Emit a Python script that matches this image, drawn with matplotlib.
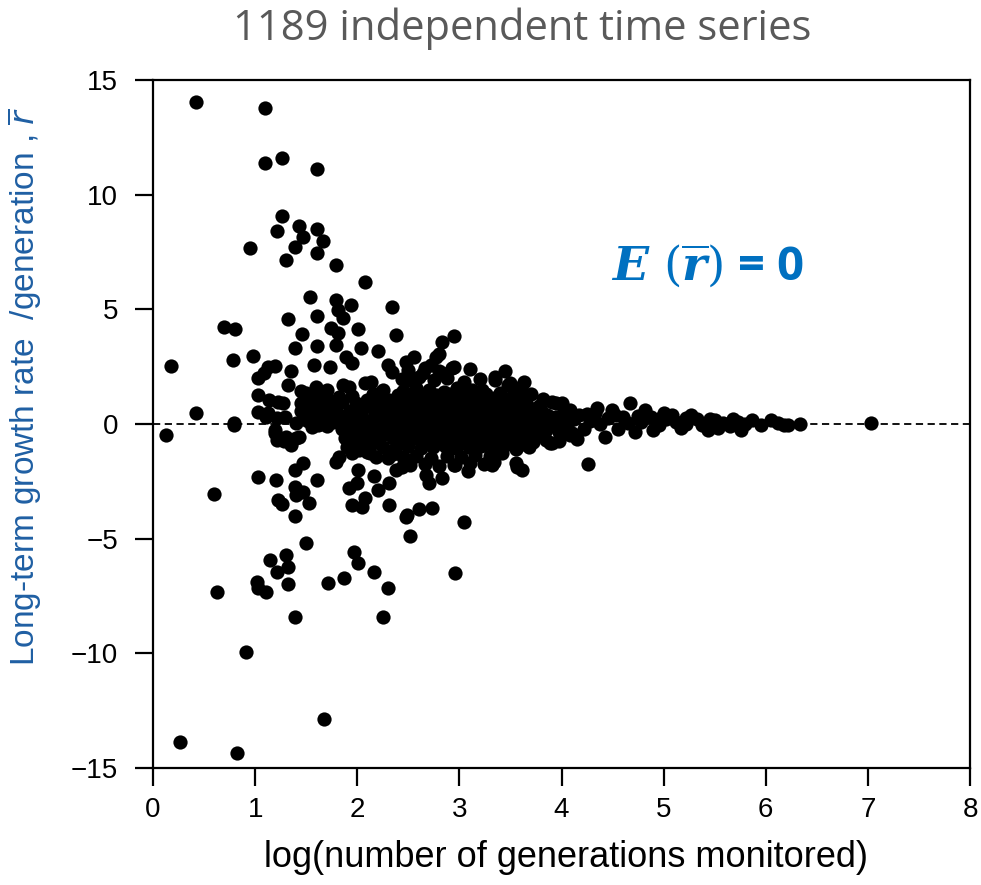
import matplotlib
matplotlib.use("Agg")
import matplotlib.pyplot as plt
import numpy as np

# scattered points above the zero band
upper_x = [0.42, 1.10, 1.10, 1.26, 1.61, 1.26, 1.21, 1.43, 1.47, 1.61, 1.66, 1.39, 0.95, 1.30,
           1.61, 1.79, 2.08, 1.54, 1.79, 1.94, 2.34, 1.81, 1.86, 1.32, 1.61, 0.70, 0.80, 1.74,
           1.81, 2.01, 2.38, 1.46, 2.95, 2.83, 1.39, 1.61, 1.79, 2.04, 2.20, 0.78, 0.98, 0.18,
           1.13, 1.19, 1.03, 1.09, 1.35, 1.58, 1.73, 1.89, 1.95, 1.86, 1.92, 2.08, 2.23, 2.30,
           2.34, 2.48, 2.56, 2.77, 2.93, 1.32, 3.45, 3.63, 3.35, 2.72, 2.83, 2.64, 2.51, 3.03,
           3.12, 2.80, 2.13, 1.50, 1.82, 3.91]
upper_y = [14.03, 13.77, 11.40, 11.59, 11.11, 9.08, 8.43, 8.63, 8.17, 8.49, 7.98, 7.73, 7.66, 7.15,
           7.44, 6.93, 6.21, 5.55, 5.41, 5.19, 5.12, 4.97, 4.61, 4.57, 4.71, 4.24, 4.13, 4.17,
           3.95, 4.13, 3.88, 3.92, 3.84, 3.59, 3.33, 3.41, 3.44, 3.30, 3.20, 2.79, 2.97, 2.54,
           2.50, 2.53, 1.99, 2.21, 2.33, 2.57, 2.50, 2.94, 2.65, 1.70, 1.63, 1.77, 1.41, 2.57,
           2.28, 2.72, 2.94, 2.94, 2.43, 1.70, 2.33, 1.84, 1.92, 2.57, 2.21, 2.21, 1.92, 1.63,
           1.48, 3.05, 1.84, 1.34, 1.19, 0.97]

# points near zero for short series
near_x = [0.42, 0.79, 1.03, 1.14, 1.22, 1.03, 1.11, 1.21, 1.29, 1.50, 1.60, 1.53, 1.69, 1.50,
          1.66, 1.79, 1.99, 2.05, 2.31, 1.27, 1.13, 1.55, 1.66, 1.79, 1.92, 2.02, 2.15, 0.13,
          0.79, 1.19, 1.21, 1.30, 1.43, 1.40, 1.19, 1.56, 1.82, 2.02, 2.15, 1.92, 1.85, 1.95,
          2.05, 2.15, 2.25, 2.35, 1.90, 2.10, 2.25, 2.35, 1.70, 1.60, 1.75, 1.88, 2.00, 2.10,
          2.20, 2.28, 1.45, 1.58, 1.72, 1.85, 1.95, 2.10, 2.22, 1.48, 1.62, 1.35, 1.28,
          1.40, 1.52, 1.64, 1.76, 1.88, 2.00, 2.12, 2.24, 1.45, 1.57, 1.69, 1.81, 1.93, 2.05,
          2.17, 2.29, 1.98, 2.08, 2.20, 1.88,
          1.45, 1.58, 1.70, 1.65, 2.25, 2.15, 2.28, 2.18, 2.08, 2.30, 2.18]
near_y = [0.47, 0.03, 1.26, 1.05, 0.97, 0.54, 0.32, 0.25, 0.32, 1.26, 1.63, 1.05, 1.19, 0.61,
          0.47, 0.83, 0.90, 0.61, 1.05, 0.90, 0.47, 0.61, 1.05, 0.61, 0.03, 0.61, 0.76, -0.48,
          -0.04, -0.26, -0.70, -0.55, -0.55, -0.62, -0.41, -0.12, -1.43, -1.13, -0.84, -0.70,
          -0.20, -0.40, -0.30, -0.50, -0.20, -0.60, -1.00, -1.20, -1.00, -1.30, -0.10, 0.20,
          0.30, 0.35, 0.20, 0.10, 0.35, 0.60, 0.90, 0.95, 0.75, 0.95, 1.20, 1.05, 0.95, 0.20,
          -0.05, -0.90, -0.75,
          0.05, 0.15, 0.00, 0.10, 0.10, -0.25, -0.15, 0.05, 0.55, 0.40, 0.50, 0.35, 0.55, 0.30,
          0.45, 0.25, -0.80, -0.70, -0.75, -0.60,
          1.45, 1.30, 1.50, 0.80, 1.50, 1.30, -0.45, 0.00, -0.55, -1.50, -1.45]

# scattered points below the zero band
lower_x = [0.60, 0.63, 0.91, 0.26, 0.82, 1.67, 1.03, 1.20, 1.22, 1.26, 1.39, 1.39, 1.40, 1.47,
           1.53, 1.61, 1.47, 1.39, 1.50, 1.15, 1.30, 1.21, 1.32, 1.02, 1.03, 1.11, 1.32, 1.39,
           1.71, 1.87, 1.97, 2.01, 2.16, 2.30, 2.25, 2.96, 3.05, 2.52, 2.48, 2.60, 2.73, 2.31,
           2.20, 2.31, 1.92, 2.01, 2.16, 1.95, 2.05, 2.08, 2.00, 1.79, 1.95, 2.12, 2.70, 2.67,
           2.83, 2.95, 3.08, 3.32, 3.56, 3.61, 3.91, 2.44, 2.51, 2.38, 4.26, 2.49, 3.34, 3.55]
lower_y = [-3.05, -7.34, -9.96, -13.85, -14.36, -12.87, -2.33, -2.44, -3.31, -3.49, -3.99, -2.73,
           -3.10, -2.95, -3.46, -2.44, -1.71, -2.01, -5.20, -5.93, -5.71, -6.44, -6.22, -6.88,
           -7.17, -7.34, -6.99, -8.40, -6.95, -6.70, -5.57, -6.08, -6.47, -7.17, -8.40, -6.51,
           -4.26, -4.87, -4.04, -3.72, -3.68, -3.53, -2.88, -2.59, -2.80, -2.01, -2.27, -3.53,
           -3.61, -3.24, -2.59, -1.67, -1.28, -1.28, -2.59, -2.22, -2.37, -1.79, -2.05, -1.79,
           -1.86, -2.01, -0.84, -1.86, -1.57, -2.01, -1.76, -3.97, -1.64, -1.72]

# the dense core, log(generations) 2.3 - 4.1
core_x = [2.44, 2.60, 2.75, 2.88, 3.05, 3.20,
          2.45, 2.58, 2.70, 2.85, 2.98, 3.10, 3.22, 3.40, 3.55,
          2.36, 2.47, 2.59, 2.71, 2.82, 2.94, 3.06, 3.18, 3.30, 3.42, 3.54, 3.66, 3.78,
          2.32, 2.44, 2.55, 2.66, 2.78, 2.90, 3.01, 3.13, 3.25, 3.37, 3.49, 3.61, 3.73, 3.86,
          2.30, 2.42, 2.53, 2.64, 2.76, 2.88, 2.99, 3.11, 3.23, 3.35, 3.46, 3.58, 3.70, 3.82, 3.94,
          2.34, 2.46, 2.57, 2.69, 2.80, 2.92, 3.04, 3.16, 3.28, 3.40, 3.52, 3.64, 3.76,
          2.38, 2.50, 2.62, 2.74, 2.86, 2.97, 3.09, 3.21, 3.33, 3.45, 3.57,
          2.45, 2.58, 2.72, 2.88, 3.02, 3.15, 3.30,
          2.50, 2.66, 2.80, 2.95, 3.10, 3.35, 3.50,
          2.40, 2.53, 2.65, 2.77, 2.90, 3.02, 3.14, 3.26, 3.38, 3.50, 3.62,
          2.38, 2.50, 2.61, 2.73, 2.84, 2.96, 3.07, 3.19, 3.31, 3.43, 3.55, 3.67, 3.80,
          2.36, 2.48, 2.59, 2.71, 2.82, 2.94, 3.05, 3.17, 3.29, 3.41, 3.52, 3.64, 3.76, 3.88,
          2.36, 2.48, 2.60, 2.72, 2.84, 2.95, 3.07, 3.19, 3.31, 3.43, 3.55, 3.67, 3.80,
          2.40, 2.52, 2.64, 2.76, 2.88, 3.00, 3.12, 3.24, 3.36, 3.48, 3.60,
          2.52, 2.66, 2.80, 2.96, 3.10, 3.24,
          3.70, 3.82, 3.95, 4.08, 3.72, 3.85, 3.98, 4.10, 3.90, 4.02, 3.85, 3.60, 3.48, 3.55,
          3.68, 3.42]
core_y = [1.95, 2.05, 1.90, 2.00, 1.85, 1.95,
          1.45, 1.55, 1.50, 1.40, 1.55, 1.45, 1.50, 1.35, 1.40,
          1.00, 1.05, 0.95, 1.10, 1.00, 0.95, 1.05, 1.00, 0.90, 1.00, 0.95, 0.85, 0.80,
          0.50, 0.45, 0.55, 0.50, 0.45, 0.55, 0.50, 0.45, 0.55, 0.50, 0.45, 0.40, 0.45, 0.40,
          0.00, 0.05, -0.05, 0.00, 0.05, -0.05, 0.00, 0.05, -0.05, 0.00, 0.05, 0.00, -0.05, 0.05, 0.00,
          -0.50, -0.45, -0.55, -0.50, -0.45, -0.55, -0.50, -0.45, -0.55, -0.50, -0.45, -0.40, -0.45,
          -1.00, -0.95, -1.05, -1.00, -0.95, -1.05, -1.00, -0.95, -1.00, -0.90, -0.95,
          -1.45, -1.40, -1.50, -1.40, -1.45, -1.35, -1.40,
          2.35, 2.45, 2.30, 2.50, 2.40, 2.05, 1.80,
          1.25, 1.30, 1.20, 1.25, 1.30, 1.20, 1.25, 1.30, 1.20, 1.15, 1.10,
          0.75, 0.70, 0.80, 0.75, 0.70, 0.80, 0.75, 0.70, 0.80, 0.75, 0.70, 0.65, 0.60,
          0.25, 0.20, 0.30, 0.25, 0.20, 0.30, 0.25, 0.20, 0.30, 0.25, 0.20, 0.25, 0.20, 0.15,
          -0.25, -0.20, -0.30, -0.25, -0.20, -0.30, -0.25, -0.20, -0.30, -0.25, -0.20, -0.25, -0.20,
          -0.75, -0.70, -0.80, -0.75, -0.70, -0.80, -0.75, -0.70, -0.75, -0.70, -0.65,
          -1.80, -1.75, -1.85, -1.80, -1.70, -1.75,
          1.30, 1.10, 0.90, 0.60, -0.80, -0.70, -0.75, -0.40, 0.30, 0.10, -0.25, 1.60, 1.70, -1.10,
          -1.00, -1.25]

# long series converging on zero
tail_x = [4.00, 4.67, 4.82, 4.17, 4.33, 4.49, 5.08, 5.27, 5.50, 5.73, 5.87, 6.05, 3.89, 4.08,
          4.43, 4.72, 5.17, 5.43, 5.76, 6.34, 6.22, 5.53, 7.03, 3.95, 4.05, 4.12, 4.22, 4.28,
          4.38, 4.46, 4.55, 4.60, 4.65, 4.78, 4.88, 4.95, 5.02, 5.12, 5.22, 5.33, 5.38, 5.58,
          5.65, 5.80, 5.95, 6.12, 6.18, 5.00, 4.90, 4.15, 4.35, 3.98, 4.02, 4.25, 4.52, 4.75,
          4.98, 5.22, 5.45, 5.68]
tail_y = [0.90, 0.90, 0.61, 0.39, 0.47, 0.61, 0.39, 0.39, 0.17, 0.10, 0.17, 0.17, -0.84, -0.48,
          -0.55, -0.33, -0.19, -0.26, -0.26, 0.00, -0.04, -0.19, 0.03, 0.30, -0.10, 0.20, -0.20,
          0.15, 0.00, 0.25, -0.20, 0.30, 0.05, 0.10, 0.30, -0.05, 0.20, 0.10, 0.00, 0.20, -0.05,
          0.05, -0.10, 0.00, -0.05, 0.05, -0.05, 0.50, -0.25, -0.65, 0.70, -0.35, 0.55, 0.45,
          0.40, 0.35, 0.30, 0.25, 0.20, 0.20]

xs = np.array(upper_x + near_x + lower_x + core_x + tail_x)
ys = np.array(upper_y + near_y + lower_y + core_y + tail_y)

fig = plt.figure(figsize=(9.81, 8.85), dpi=100)
ax = fig.add_axes([153 / 981, 117 / 885, 817 / 981, 688 / 885])

ax.axhline(0, color='black', lw=1.3, ls=(0, (4, 2.5)), zorder=1)
ax.scatter(xs, ys, s=105, color='black', linewidths=0, zorder=2)

ax.set_xlim(0, 8)
ax.set_ylim(-15, 15)
ax.set_xticks(range(0, 9))
ax.set_yticks([-15, -10, -5, 0, 5, 10, 15])
ax.set_yticklabels(['\u221215', '\u221210', '\u22125', '0', '5', '10', '15'])
for sp in ax.spines.values():
    sp.set_linewidth(1.6)
ax.tick_params(direction='out', length=13, width=1.6, labelsize=20)
ax.tick_params(axis='y', pad=12)
ax.tick_params(axis='x', pad=8)
for lab in ax.get_xticklabels() + ax.get_yticklabels():
    lab.set_family('Liberation Sans')

ax.set_xlabel('log(number of generations monitored)', fontsize=26, family='Liberation Sans')
ax.xaxis.set_label_coords(0.505, -0.105)
ax.set_ylabel('Long-term growth rate  /generation , $\\overline{r}$', fontsize=24,
              family='Liberation Sans', color='#1F5FA3')
ax.yaxis.set_label_coords(-0.134, 0.555)

fig.text(0.532, 0.968, '1189 independent time series', ha='center', va='center',
         fontsize=30, color='#595959', family='Open Sans')

ax.text(4.48, 6.8, r'$\mathbfit{E}\ (\overline{\mathbfit{r}})$ = 0', ha='left', va='center',
        fontsize=34, color='#0070C0', fontweight='bold', family='Open Sans',
        math_fontfamily='dejavuserif')

fig.savefig('out.png', dpi=100)
